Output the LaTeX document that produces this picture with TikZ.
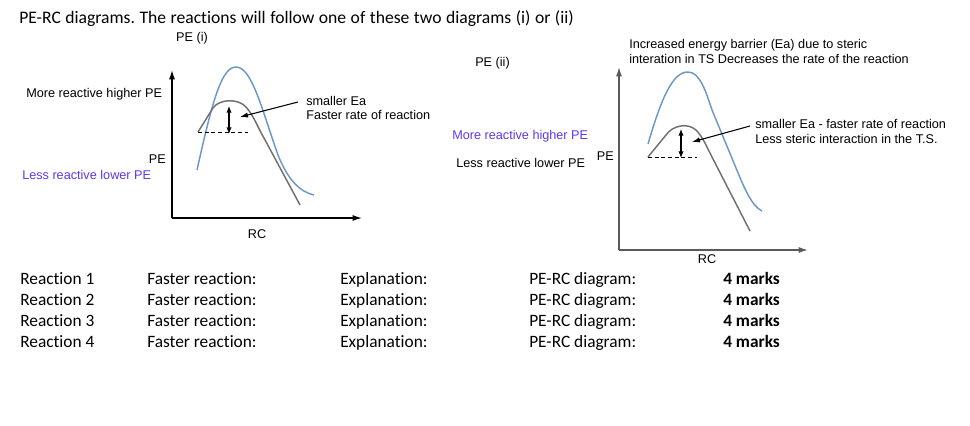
\documentclass[tikz,border=0pt]{standalone}
\usepackage{fontspec}
\setmainfont{Carlito}[Ligatures=NoCommon]
\newfontfamily\arial{Liberation Sans}
\usetikzlibrary{arrows.meta}
\frenchspacing
\definecolor{curveblue}{RGB}{108,152,196}
\definecolor{curvegray}{RGB}{112,112,112}
\definecolor{violettext}{RGB}{92,56,242}
\definecolor{axisgray}{RGB}{90,90,90}
\tikzset{
  lbl/.style={font=\arial\fontsize{9.5}{10.8}\selectfont, inner sep=0pt, align=left},
  tbl/.style={font=\fontsize{13}{15}\selectfont, inner sep=0pt, anchor=base west},
  axisline/.style={line width=1pt, -{Latex[length=7pt,width=4.5pt]}},
  bluecurve/.style={curveblue, line width=1.1pt},
  graycurve/.style={curvegray, line width=1.1pt},
  eaarrow/.style={line width=0.8pt, {Latex[length=5pt,width=4pt]}-{Latex[length=5pt,width=4pt]}},
  pointer/.style={line width=0.8pt, -{Latex[length=6pt,width=4pt]}},
  dashline/.style={dashed, dash pattern=on 3pt off 2pt, line width=0.7pt}
}
\begin{document}
\begin{tikzpicture}[x=0.75pt,y=-0.75pt]
\useasboundingbox (0,0) rectangle (970,425);
% title
\node[anchor=base west, inner sep=0pt, font=\fontsize{13.2}{15}\selectfont] (title) at (19,23.5) {\spaceskip=3.4pt plus 1pt PE-RC diagrams. The reactions will follow one of these two diagrams (i) or (ii)};

% ---------- diagram (i) ----------
\coordinate (o1) at (172,218);
\coordinate (y1) at (172,70);
\coordinate (x1) at (362,218);
\draw[axisline] (o1) -- (y1);
\draw[axisline] (o1) -- (x1);
\draw[bluecurve] (197,170) .. controls (213,98) and (222,67) .. (236,67)
  .. controls (252,67) and (262,110) .. (278,155)
  .. controls (288,180) and (300,192) .. (314,195);
\draw[graycurve] (198,132) -- (213,108) .. controls (219,99) and (238,98) .. (246,107)
  .. controls (254,116) and (258,128) .. (264,138) -- (300,205);
\coordinate (d1a) at (198,132);
\coordinate (d1b) at (248,132);
\draw[dashline] (d1a) -- (d1b);
\coordinate (e1t) at (229,106);
\coordinate (e1b) at (229,134);
\draw[eaarrow] (e1b) -- (e1t);
\node[lbl, anchor=center] (pe1) at (192,38) {PE (i)};
\node[lbl, anchor=west] (more1) at (26,94) {More reactive higher PE};
\node[lbl, anchor=east] (pelab1) at (166,159) {PE};
\node[lbl, anchor=west, text=violettext] (less1) at (22,175) {Less reactive lower PE};
\node[lbl, anchor=center] (rc1) at (257,234) {RC};
\node[lbl, anchor=west] (note1) at (306,108) {smaller Ea\\Faster rate of reaction};
\coordinate (p1s) at (298,102);
\coordinate (p1e) at (240,117);
\draw[pointer] (p1s) -- (p1e);

% ---------- diagram (ii) ----------
\coordinate (o2) at (619,250);
\coordinate (y2) at (619,67);
\coordinate (x2) at (808,250);
\draw[axisline, draw=axisgray] (o2) -- (y2);
\draw[axisline, draw=axisgray] (o2) -- (x2);
\draw[bluecurve] (648,144) .. controls (662,96) and (673,72) .. (688,72)
  .. controls (700,72) and (706,92) .. (712,110) -- (736,168)
  .. controls (745,190) and (752,206) .. (762,211);
\draw[graycurve] (648,157) -- (666,135) .. controls (672,126) and (687,122) .. (696,130)
  .. controls (702,136) and (706,145) .. (712,157) -- (750,231);
\coordinate (d2a) at (648,157);
\coordinate (d2b) at (697,157);
\draw[dashline] (d2a) -- (d2b);
\coordinate (e2t) at (681,129);
\coordinate (e2b) at (681,158);
\draw[eaarrow] (e2b) -- (e2t);
\node[lbl, anchor=west] (pe2) at (475,63) {PE (ii)};
\node[lbl, anchor=west, text=violettext] (more2) at (452,136) {More reactive higher PE};
\node[lbl, anchor=west] (less2) at (456,163) {Less reactive lower PE};
\node[lbl, anchor=east] (pelab2) at (614,156) {PE};
\node[lbl, anchor=center] (rc2) at (707,259) {RC};
\node[lbl, anchor=west] (top2) at (629,51.5) {Increased energy barrier (Ea) due to steric\\interation in TS Decreases the rate of the reaction};
\node[lbl, anchor=west] (note2) at (755,131.5) {smaller Ea - faster rate of reaction\\Less steric interaction in the T.S.};
\coordinate (p2s) at (750,126);
\coordinate (p2e) at (692,142);
\draw[pointer] (p2s) -- (p2e);

% ---------- table ----------
\foreach \r/\yy in {1/284.5,2/305.5,3/326.5,4/347.5}{
  \node[tbl] (ra\r) at (20,\yy) {Reaction \r};
  \node[tbl] (rb\r) at (147,\yy) {Faster reaction:};
  \node[tbl] (rc\r) at (340,\yy) {Explanation:};
  \node[tbl] (rd\r) at (529,\yy) {PE-RC diagram:};
  \node[tbl, font=\bfseries\fontsize{13}{15}\selectfont] (re\r) at (723,\yy) {4 marks};
}
\end{tikzpicture}
\end{document}
